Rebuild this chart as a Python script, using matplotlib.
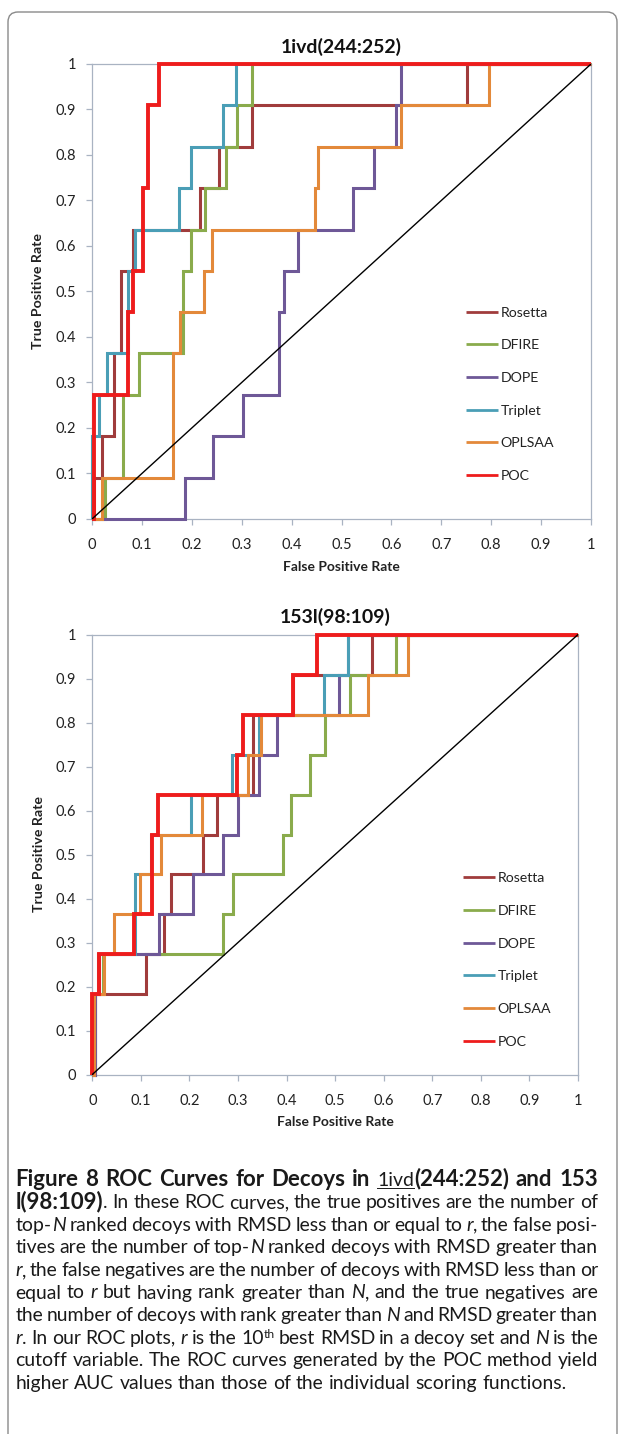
import matplotlib
matplotlib.use("Agg")
import matplotlib.pyplot as plt
from matplotlib.lines import Line2D
from matplotlib.patches import FancyBboxPatch

W, H, DPI = 621, 1434, 100

# ---------------- data ----------------
series_names = ["Rosetta", "DFIRE", "DOPE", "Triplet", "OPLSAA", "POC"]
series_colors = ["#a03c3c", "#8aab4c", "#6e5897", "#4a9eb6", "#e3893a", "#ee1c1c"]
series_widths = [2.2, 2.2, 2.2, 2.2, 2.2, 2.8]
tick_labels = ["0", "0.1", "0.2", "0.3", "0.4", "0.5", "0.6", "0.7", "0.8", "0.9", "1"]
tick_values = [0.0, 0.1, 0.2, 0.3, 0.4, 0.5, 0.6, 0.7, 0.8, 0.9, 1.0]

# panel 1 : 1ivd(244:252)
ivd_rosetta_fpr = [0, 0.005, 0.005, 0.02, 0.02, 0.045, 0.045, 0.058, 0.058, 0.083, 0.083, 0.216, 0.216, 0.255, 0.255, 0.32, 0.32, 0.751, 0.751, 1]
ivd_rosetta_tpr = [0, 0, 0.091, 0.091, 0.182, 0.182, 0.364, 0.364, 0.545, 0.545, 0.636, 0.636, 0.727, 0.727, 0.818, 0.818, 0.909, 0.909, 1, 1]
ivd_dfire_fpr = [0, 0.026, 0.026, 0.063, 0.063, 0.095, 0.095, 0.182, 0.182, 0.198, 0.198, 0.226, 0.226, 0.268, 0.268, 0.29, 0.29, 0.321, 0.321, 1]
ivd_dfire_tpr = [0, 0, 0.091, 0.091, 0.273, 0.273, 0.364, 0.364, 0.545, 0.545, 0.636, 0.636, 0.727, 0.727, 0.818, 0.818, 0.909, 0.909, 1, 1]
ivd_dope_fpr = [0, 0.186, 0.186, 0.242, 0.242, 0.303, 0.303, 0.375, 0.375, 0.385, 0.385, 0.413, 0.413, 0.524, 0.524, 0.565, 0.565, 0.609, 0.609, 0.62, 0.62, 1]
ivd_dope_tpr = [0, 0, 0.091, 0.091, 0.182, 0.182, 0.273, 0.273, 0.455, 0.455, 0.545, 0.545, 0.636, 0.636, 0.727, 0.727, 0.818, 0.818, 0.909, 0.909, 1, 1]
ivd_triplet_fpr = [0, 0, 0.014, 0.014, 0.031, 0.031, 0.072, 0.072, 0.086, 0.086, 0.174, 0.174, 0.198, 0.198, 0.263, 0.263, 0.288, 0.288, 1]
ivd_triplet_tpr = [0, 0.182, 0.182, 0.273, 0.273, 0.364, 0.364, 0.545, 0.545, 0.636, 0.636, 0.727, 0.727, 0.818, 0.818, 0.909, 0.909, 1, 1]
ivd_oplsaa_fpr = [0, 0.021, 0.021, 0.162, 0.162, 0.177, 0.177, 0.225, 0.225, 0.24, 0.24, 0.447, 0.447, 0.452, 0.452, 0.62, 0.62, 0.796, 0.796, 1]
ivd_oplsaa_tpr = [0, 0, 0.091, 0.091, 0.364, 0.364, 0.455, 0.455, 0.545, 0.545, 0.636, 0.636, 0.727, 0.727, 0.818, 0.818, 0.909, 0.909, 1, 1]
ivd_poc_fpr = [0, 0.005, 0.005, 0.073, 0.073, 0.083, 0.083, 0.103, 0.103, 0.113, 0.113, 0.135, 0.135, 1]
ivd_poc_tpr = [0, 0, 0.273, 0.273, 0.455, 0.455, 0.545, 0.545, 0.727, 0.727, 0.909, 0.909, 1, 1]

# panel 2 : 153l(98:109)
l153_rosetta_fpr = [0, 0.005, 0.005, 0.11, 0.11, 0.148, 0.148, 0.162, 0.162, 0.228, 0.228, 0.256, 0.256, 0.33, 0.33, 0.33, 0.414, 0.414, 0.575, 0.575, 1]
l153_rosetta_tpr = [0, 0, 0.182, 0.182, 0.273, 0.273, 0.364, 0.364, 0.455, 0.455, 0.545, 0.545, 0.636, 0.636, 0.727, 0.818, 0.818, 0.909, 0.909, 1, 1]
l153_dfire_fpr = [0, 0.005, 0.005, 0.023, 0.023, 0.27, 0.27, 0.289, 0.289, 0.392, 0.392, 0.41, 0.41, 0.448, 0.448, 0.48, 0.48, 0.53, 0.53, 0.626, 0.626, 1]
l153_dfire_tpr = [0, 0, 0.182, 0.182, 0.273, 0.273, 0.364, 0.364, 0.455, 0.455, 0.545, 0.545, 0.636, 0.636, 0.727, 0.727, 0.818, 0.818, 0.909, 0.909, 1, 1]
l153_dope_fpr = [0, 0.005, 0.005, 0.014, 0.014, 0.137, 0.137, 0.208, 0.208, 0.27, 0.27, 0.3, 0.3, 0.343, 0.343, 0.38, 0.38, 0.508, 0.508, 0.527, 0.527, 1]
l153_dope_tpr = [0, 0, 0.182, 0.182, 0.273, 0.273, 0.364, 0.364, 0.455, 0.455, 0.545, 0.545, 0.636, 0.636, 0.727, 0.727, 0.818, 0.818, 0.909, 0.909, 1, 1]
l153_triplet_fpr = [0, 0, 0.012, 0.012, 0.088, 0.088, 0.12, 0.12, 0.203, 0.203, 0.287, 0.287, 0.343, 0.343, 0.477, 0.477, 0.527, 0.527, 1]
l153_triplet_tpr = [0, 0.182, 0.182, 0.273, 0.273, 0.455, 0.455, 0.545, 0.545, 0.636, 0.636, 0.727, 0.727, 0.818, 0.818, 0.909, 0.909, 1, 1]
l153_oplsaa_fpr = [0, 0.003, 0.003, 0.025, 0.025, 0.044, 0.044, 0.098, 0.098, 0.142, 0.142, 0.225, 0.225, 0.321, 0.321, 0.347, 0.347, 0.568, 0.568, 0.649, 0.649, 1]
l153_oplsaa_tpr = [0, 0, 0.182, 0.182, 0.273, 0.273, 0.364, 0.364, 0.455, 0.455, 0.545, 0.545, 0.636, 0.636, 0.727, 0.727, 0.818, 0.818, 0.909, 0.909, 1, 1]
l153_poc_fpr = [0, 0, 0.014, 0.014, 0.086, 0.086, 0.122, 0.122, 0.136, 0.136, 0.297, 0.297, 0.311, 0.311, 0.414, 0.414, 0.463, 0.463, 1]
l153_poc_tpr = [0, 0.182, 0.182, 0.273, 0.273, 0.364, 0.364, 0.545, 0.545, 0.636, 0.636, 0.727, 0.727, 0.818, 0.818, 0.909, 0.909, 1, 1]

panel_titles = ["1ivd(244:252)", "153l(98:109)"]
x_label = "False Positive Rate"
y_label = "True Positive Rate"

caption_lines = [
    "*Figure 8 ROC Curves for Decoys in* _1ivd_*(244:252) and 153*",
    "*l(98:109)*. In these ROC curves, the true positives are the number of",
    "top-/N/ ranked decoys with RMSD less than or equal to /r/, the false posi-",
    "tives are the number of top-/N/ ranked decoys with RMSD greater than",
    "/r/, the false negatives are the number of decoys with RMSD less than or",
    "equal to /r/ but having rank greater than /N/, and the true negatives are",
    "the number of decoys with rank greater than /N/ and RMSD greater than",
    "/r/. In our ROC plots, /r/ is the 10^th^ best RMSD in a decoy set and /N/ is the",
    "cutoff variable. The ROC curves generated by the POC method yield",
    "higher AUC values than those of the individual scoring functions.",
]

# ---------------- drawing ----------------
CHART_FONT = ["Lato", "DejaVu Sans"]
CAP_FONT = ["Lato", "DejaVu Sans"]
SPINE = "#a9b3c2"
TXT = "#222222"

fig = plt.figure(figsize=(W / DPI, H / DPI), dpi=DPI)
fig.patch.set_facecolor("white")


def px_axes(l, t, r, b):
    return fig.add_axes([l / W, 1 - b / H, (r - l) / W, (b - t) / H])


def draw_panel(ax, title, curves, leg_xy):
    handles = []
    for (fpr, tpr), name, color, lw in zip(curves, series_names, series_colors, series_widths):
        ax.plot(fpr, tpr, color=color, lw=lw, solid_joinstyle="miter",
                solid_capstyle="butt", clip_on=False, zorder=3)
        handles.append(Line2D([], [], color=color, lw=2.0, solid_capstyle="butt"))
    ax.plot([0, 1], [0, 1], color="black", lw=1.0, zorder=4)
    ax.set_xlim(0, 1)
    ax.set_ylim(0, 1)
    ax.set_xticks(tick_values)
    ax.set_xticklabels(tick_labels)
    ax.set_yticks(tick_values)
    ax.set_yticklabels(tick_labels)
    for s in ax.spines.values():
        s.set_color(SPINE)
        s.set_linewidth(0.9)
    ax.tick_params(axis="x", direction="out", length=4.5, width=0.9, color=SPINE,
                   labelsize=10.5, labelcolor=TXT, pad=9.5)
    ax.tick_params(axis="y", direction="out", length=4.5, width=0.9, color=SPINE,
                   labelsize=10.5, labelcolor=TXT, pad=7)
    for lab in ax.get_xticklabels() + ax.get_yticklabels():
        lab.set_family(CHART_FONT)
    ax.set_title(title, fontsize=14, fontweight="bold", family=CHART_FONT, pad=8,
                 color="#111111")
    ax.set_xlabel(x_label, fontsize=10, fontweight="bold", family=CHART_FONT,
                  labelpad=6, color=TXT)
    ax.set_ylabel(y_label, fontsize=10.2, fontweight="bold", family=CHART_FONT,
                  labelpad=8, color=TXT)
    leg = ax.legend(handles, series_names, loc="center left", bbox_to_anchor=leg_xy,
                    frameon=False, borderpad=0, borderaxespad=0, handlelength=2.3,
                    handletextpad=0.15, labelspacing=1.46,
                    prop={"family": CHART_FONT, "size": 10.2})
    for t in leg.get_texts():
        t.set_color(TXT)


ax1 = px_axes(92, 64, 591, 519)
draw_panel(ax1, panel_titles[0],
           [(ivd_rosetta_fpr, ivd_rosetta_tpr), (ivd_dfire_fpr, ivd_dfire_tpr),
            (ivd_dope_fpr, ivd_dope_tpr), (ivd_triplet_fpr, ivd_triplet_tpr),
            (ivd_oplsaa_fpr, ivd_oplsaa_tpr), (ivd_poc_fpr, ivd_poc_tpr)],
           (0.749, 0.274))

ax2 = px_axes(92.3, 634.5, 578, 1074.5)
draw_panel(ax2, panel_titles[1],
           [(l153_rosetta_fpr, l153_rosetta_tpr), (l153_dfire_fpr, l153_dfire_tpr),
            (l153_dope_fpr, l153_dope_tpr), (l153_triplet_fpr, l153_triplet_tpr),
            (l153_oplsaa_fpr, l153_oplsaa_tpr), (l153_poc_fpr, l153_poc_tpr)],
           (0.763, 0.260))

# page border (rounded box, partly cut by the image edge)
box = FancyBboxPatch((8, -40), 609, 1422 + 40, boxstyle="round,pad=0,rounding_size=10",
                     transform=None, fill=False, edgecolor="#8a8a8a", lw=1.0)
fig.patches.append(box)

# ---------------- caption ----------------
renderer = fig.canvas.get_renderer()


def parse(line):
    words = [[]]
    style = set()
    buf = ""
    for ch in line + " ":
        if ch in "*_/^":
            if buf:
                words[-1].append((buf, frozenset(style)))
                buf = ""
            style ^= {ch}
        elif ch == " ":
            if buf:
                words[-1].append((buf, frozenset(style)))
                buf = ""
            if words[-1]:
                words.append([])
        else:
            buf += ch
    return [w for w in words if w]


BOLD_SCALE = [1.0]


def props(style, size):
    kw = dict(family=CAP_FONT, fontsize=size, color="#1a1a1a", va="baseline", ha="left")
    if "*" in style:
        kw["fontweight"] = "bold"
        kw["fontsize"] = size * BOLD_SCALE[0]
    if "/" in style:
        kw["fontstyle"] = "italic"
    if "^" in style:
        kw["fontsize"] = size * 0.62
    return kw


def width(text, style, size):
    t = fig.text(0, 0, text, **props(style, size))
    w = t.get_window_extent(renderer).width
    t.remove()
    return w


def space_w(size):
    return width("a b", frozenset(), size) - width("ab", frozenset(), size)


parsed = [parse(l) for l in caption_lines]
LEFT, RIGHT = 15.5, 598.0
target = RIGHT - LEFT

# base size: last (unjustified) line should span ~550 px as in the original
s0 = 12.0
last_words = parsed[-1]
lw0 = sum(width(t, s, s0) for w in last_words for (t, s) in w) + space_w(s0) * (len(last_words) - 1)
base_size = s0 * 550.0 / lw0

# bold heading: widen so that the first line fills with ~normal word spacing
head = parsed[0]
bold_w = sum(width(t, s, base_size) for w in head for (t, s) in w if "*" in s)
other_w = sum(width(t, s, base_size) for w in head for (t, s) in w if "*" not in s)
avail = target - other_w - 1.3 * space_w(base_size) * (len(head) - 1)
BOLD_SCALE[0] = max(1.0, min(1.15, avail / bold_w))

y0 = 1180.0
pitch = 22.6
for i, words in enumerate(parsed):
    size = base_size
    last = i == len(parsed) - 1
    ww = sum(width(t, s, size) for w in words for (t, s) in w)
    need = ww + 0.55 * space_w(size) * (len(words) - 1)
    if need > target:
        size = size * target / need
    base = y0 + i * pitch + 5.5
    wlist = [[(t, s, width(t, s, size)) for (t, s) in w] for w in words]
    total = sum(r[2] for w in wlist for r in w)
    gap = space_w(size) if last or len(wlist) < 2 else (target - total) / (len(wlist) - 1)
    x = LEFT
    for w in wlist:
        for (t, s, wd) in w:
            yb = base - (5.5 if "^" in s else 0.0)
            fig.text(x / W, 1 - yb / H, t, **props(s, size))
            if "_" in s:
                fig.add_artist(Line2D([x / W, (x + wd) / W], [1 - (base + 2) / H] * 2,
                                      color="#1a1a1a", lw=0.7, transform=fig.transFigure))
            x += wd
        x += gap

fig.savefig("out.png", dpi=DPI)
